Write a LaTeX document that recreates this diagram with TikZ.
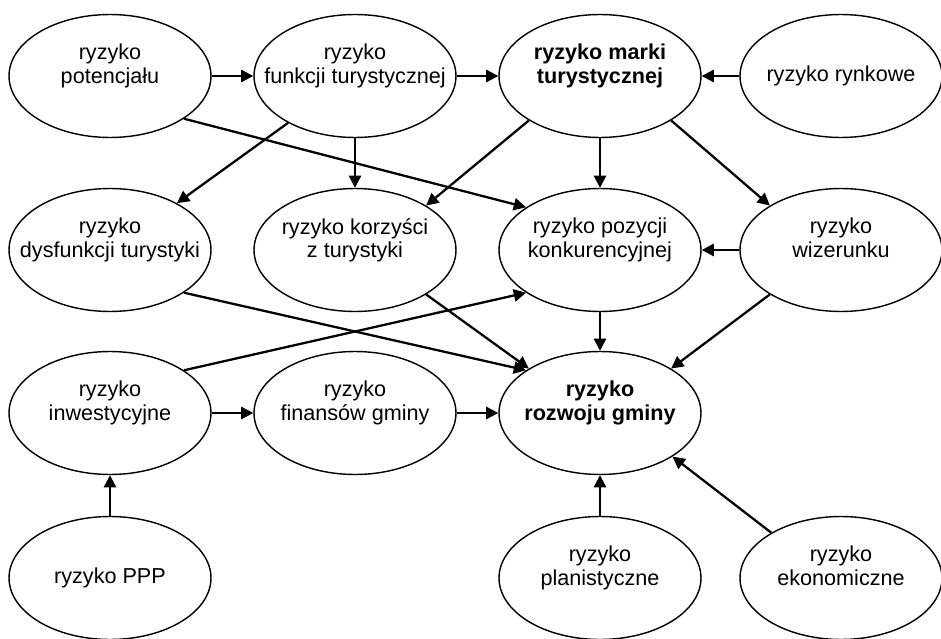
\documentclass[tikz,border=0pt]{standalone}
\usepackage{fontspec}
\setmainfont{Liberation Sans}
\usetikzlibrary{arrows.meta}
\usetikzlibrary{shapes.geometric}

\begin{document}
\begin{tikzpicture}[x = 0.02cm, y = -0.02cm]
		\tikzset{risk/.style={shape = ellipse, draw, line width = 0.8pt, minimum width = 4.04cm, minimum height = 2.46cm, inner xsep = -18pt, inner ysep = 0pt, align = center, font = \fontsize{12.3}{13.6}\selectfont}}
		\tikzset{key/.style={risk, font = \fontsize{12.3}{13.6}\selectfont\bfseries}}
		\tikzset{edge/.style={-{Triangle[length = 7pt, width = 7pt]}, line width = 1.3pt}}
					\useasboundingbox (0, 0) rectangle (941, 639);
					%vertices
					\node[risk] (pot) at (110, 76) {ryzyko\\potencjału\\};
					\node[risk] (fun) at (355, 76) {ryzyko\\funkcji turystycznej\\};
					\node[key] (mar) at (600, 76) {ryzyko marki\\turystycznej\\};
					\node[risk] (ryn) at (841, 76) {ryzyko rynkowe};
					\node[risk] (dys) at (110, 250) {ryzyko\\dysfunkcji turystyki\\};
					\node[risk] (kor) at (355, 250) {ryzyko korzyści\\z turystyki\\};
					\node[risk] (poz) at (600, 250) {ryzyko pozycji\\konkurencyjnej\\};
					\node[risk] (wiz) at (841, 250) {ryzyko\\wizerunku\\};
					\node[risk] (inw) at (110, 413) {ryzyko\\inwestycyjne\\};
					\node[risk] (fin) at (355, 413) {ryzyko\\finansów gminy\\};
					\node[key] (roz) at (600, 413) {ryzyko\\rozwoju gminy\\};
					\node[risk] (ppp) at (110, 578) {ryzyko PPP};
					\node[risk] (pla) at (600, 578) {ryzyko\\planistyczne\\};
					\node[risk] (eko) at (841, 578) {ryzyko\\ekonomiczne\\};
					%edges
					\draw[edge] (pot) -- (fun);
					\draw[edge] (fun) -- (mar);
					\draw[edge] (ryn) -- (mar);
					\draw[edge] (fun.-145) -- (dys.35);
					\draw[edge] (fun) -- (kor);
					\draw[edge] (pot.-30) -- (poz.150);
					\draw[edge] (mar.-148) -- (kor.32);
					\draw[edge] (mar) -- (poz);
					\draw[edge] (mar.-32) -- (wiz.148);
					\draw[edge] (wiz) -- (poz);
					\draw[edge] (dys.-30) -- (roz.150);
					\draw[edge] (kor.-32) -- (roz.148);
					\draw[edge] (inw.30) -- (poz.-150);
					\draw[edge] (poz) -- (roz);
					\draw[edge] (wiz.-148) -- (roz.32);
					\draw[edge] (inw) -- (fin);
					\draw[edge] (fin) -- (roz);
					\draw[edge] (ppp) -- (inw);
					\draw[edge] (pla) -- (roz);
					\draw[edge] (eko.147) -- (roz.-31);
					
\end{tikzpicture}
\end{document}
